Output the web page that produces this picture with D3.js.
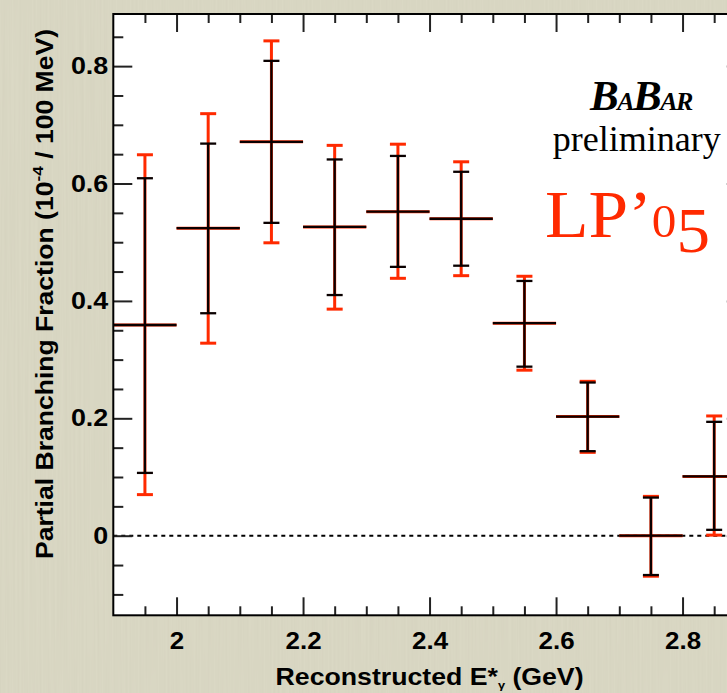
<!DOCTYPE html>
<html>
<head>
<meta charset="utf-8">
<script src="https://cdn.jsdelivr.net/npm/d3@7/dist/d3.min.js"></script>
<style>
  body { margin: 0; background: #d8d6c0; }
  svg { display: block; }
</style>
</head>
<body>
<div id="chart"></div>
<script>
// bin centres (GeV), 100 MeV wide bins
const binCentre = [1.95, 2.05, 2.15, 2.25, 2.35, 2.45, 2.55, 2.65, 2.75, 2.85];
const binWidth = 0.1;
const value = [0.359, 0.524, 0.671, 0.526, 0.552, 0.540, 0.362, 0.203, 0.000, 0.101];
// inner (black) error bar ends
const statLow = [0.107, 0.379, 0.533, 0.410, 0.458, 0.460, 0.288, 0.144, -0.067, 0.010];
const statHigh = [0.609, 0.668, 0.809, 0.641, 0.647, 0.620, 0.434, 0.261, 0.065, 0.194];
// outer (red) error bar ends
const totLow = [0.070, 0.328, 0.499, 0.386, 0.4385, 0.443, 0.282, 0.142, -0.069, 0.001];
const totHigh = [0.649, 0.719, 0.843, 0.665, 0.667, 0.637, 0.442, 0.263, 0.067, 0.204];

const xMajor = [2.0, 2.2, 2.4, 2.6, 2.8];
const xMinor = [1.95, 2.05, 2.1, 2.15, 2.25, 2.3, 2.35, 2.45, 2.5, 2.55, 2.65, 2.7, 2.75, 2.85];
const yMajor = [0, 0.2, 0.4, 0.6, 0.8];
const yMinor = [-0.1, -0.05, 0.05, 0.1, 0.15, 0.25, 0.3, 0.35, 0.45, 0.5, 0.55, 0.65, 0.7, 0.75, 0.85];

const W = 727, H = 693;
const frame = { left: 113.3, right: 745.8, top: 14, bottom: 615.3 };
const red = '#ff2a00';
const sans = '"Liberation Sans", Arial, Helvetica, sans-serif';
const serif = '"Liberation Serif", "Times New Roman", serif';

const data = binCentre.map((c, i) => ({
  c, v: value[i], sl: statLow[i], sh: statHigh[i], tl: totLow[i], th: totHigh[i]
}));

const svg = d3.select('#chart')
  .append('svg')
  .attr('width', W)
  .attr('height', H);

// paper-like background
const defs = svg.append('defs');
const f = defs.append('filter').attr('id', 'paper')
  .attr('x', 0).attr('y', 0).attr('width', 1).attr('height', 1);
f.append('feTurbulence')
  .attr('type', 'fractalNoise')
  .attr('baseFrequency', '0.5 0.006')
  .attr('numOctaves', 2)
  .attr('seed', 4);
f.append('feColorMatrix')
  .attr('values', '0 0 0 0 0.55  0 0 0 0 0.53  0 0 0 0 0.42  0 0 0 0.3 0');

svg.append('rect').attr('width', W).attr('height', H).attr('fill', '#dcdac6');
svg.append('rect').attr('width', W).attr('height', H).attr('filter', 'url(#paper)');

const x = d3.scaleLinear().domain([1.9, 2.9]).range([frame.left, frame.right]);
const y = d3.scaleLinear().domain([-0.1356, 0.8888]).range([frame.bottom, frame.top]);

svg.append('rect')
  .attr('x', frame.left).attr('y', frame.top)
  .attr('width', frame.right - frame.left)
  .attr('height', frame.bottom - frame.top)
  .attr('fill', 'white');

// zero line
svg.append('line')
  .attr('x1', frame.left).attr('x2', frame.right)
  .attr('y1', y(0)).attr('y2', y(0))
  .attr('stroke', 'black')
  .attr('stroke-width', 2)
  .attr('stroke-dasharray', '4,4');

// axes (ticks pointing inward)
const tickStyle = (g) => {
  g.select('.domain').remove();
  g.selectAll('.tick line').attr('stroke', '#222').attr('stroke-width', 2);
  g.selectAll('text')
    .attr('font-family', sans)
    .attr('font-weight', 'bold')
    .attr('fill', 'black');
};

const bottom = d3.axisBottom(x).tickValues(xMajor).tickSize(-18).tickPadding(17)
  .tickFormat(d3.format('.1f'));
svg.append('g').attr('transform', `translate(0,${frame.bottom})`)
  .call(bottom).call(tickStyle)
  .selectAll('text').attr('font-size', 24)
  .text(d => d === 2 ? '2' : d3.format('.1f')(d))
  .attr('data-stretch', 1.08);
svg.append('g').attr('transform', `translate(0,${frame.bottom})`)
  .call(d3.axisBottom(x).tickValues(xMinor).tickSize(-9).tickFormat(''))
  .call(tickStyle);

svg.append('g').attr('transform', `translate(0,${frame.top})`)
  .call(d3.axisTop(x).tickValues(xMajor).tickSize(-18).tickFormat(''))
  .call(tickStyle);
svg.append('g').attr('transform', `translate(0,${frame.top})`)
  .call(d3.axisTop(x).tickValues(xMinor).tickSize(-9).tickFormat(''))
  .call(tickStyle);

svg.append('g').attr('transform', `translate(${frame.left},0)`)
  .call(d3.axisLeft(y).tickValues(yMajor).tickSize(-19).tickPadding(5)
    .tickFormat(d => d === 0 ? '0' : d3.format('.1f')(d)))
  .call(tickStyle)
  .selectAll('text').attr('font-size', 24)
  .attr('data-stretch', 1.12);
svg.append('g').attr('transform', `translate(${frame.left},0)`)
  .call(d3.axisLeft(y).tickValues(yMinor).tickSize(-10).tickFormat(''))
  .call(tickStyle);

svg.append('g').attr('transform', `translate(${frame.right},0)`)
  .call(d3.axisRight(y).tickValues(yMajor).tickSize(-19).tickFormat(''))
  .call(tickStyle);
svg.append('g').attr('transform', `translate(${frame.right},0)`)
  .call(d3.axisRight(y).tickValues(yMinor).tickSize(-10).tickFormat(''))
  .call(tickStyle);

// widen tick labels a bit, the original glyphs are stretched
svg.selectAll('.tick text[data-stretch]').each(function () {
  const s = +this.getAttribute('data-stretch');
  const w = this.getComputedTextLength();
  d3.select(this).attr('textLength', w * s).attr('lengthAdjust', 'spacingAndGlyphs');
});

// error bars
const cap = 8;
const pts = svg.append('g');

// red total errors underneath
const redG = pts.append('g').attr('stroke', red).attr('stroke-width', 3);
redG.selectAll('line.v').data(data).join('line')
  .attr('x1', d => x(d.c)).attr('x2', d => x(d.c))
  .attr('y1', d => y(d.tl)).attr('y2', d => y(d.th));
redG.selectAll('line.lo').data(data).join('line')
  .attr('x1', d => x(d.c) - cap).attr('x2', d => x(d.c) + cap)
  .attr('y1', d => y(d.tl)).attr('y2', d => y(d.tl));
redG.selectAll('line.hi').data(data).join('line')
  .attr('x1', d => x(d.c) - cap).attr('x2', d => x(d.c) + cap)
  .attr('y1', d => y(d.th)).attr('y2', d => y(d.th));
redG.selectAll('line.h').data(data).join('line')
  .attr('x1', d => x(d.c - binWidth / 2)).attr('x2', d => x(d.c + binWidth / 2))
  .attr('y1', d => y(d.v)).attr('y2', d => y(d.v));

// black inner errors on top
const blackG = pts.append('g').attr('stroke', '#0a0000').attr('stroke-width', 2.3);
blackG.selectAll('line.v').data(data).join('line')
  .attr('x1', d => x(d.c)).attr('x2', d => x(d.c))
  .attr('y1', d => y(d.sl)).attr('y2', d => y(d.sh));
blackG.selectAll('line.lo').data(data).join('line')
  .attr('x1', d => x(d.c) - cap).attr('x2', d => x(d.c) + cap)
  .attr('y1', d => y(d.sl)).attr('y2', d => y(d.sl));
blackG.selectAll('line.hi').data(data).join('line')
  .attr('x1', d => x(d.c) - cap).attr('x2', d => x(d.c) + cap)
  .attr('y1', d => y(d.sh)).attr('y2', d => y(d.sh));
blackG.selectAll('line.h').data(data).join('line')
  .attr('x1', d => x(d.c - binWidth / 2)).attr('x2', d => x(d.c + binWidth / 2))
  .attr('y1', d => y(d.v)).attr('y2', d => y(d.v));

// frame
svg.append('rect')
  .attr('x', frame.left).attr('y', frame.top)
  .attr('width', frame.right - frame.left)
  .attr('height', frame.bottom - frame.top)
  .attr('fill', 'none')
  .attr('stroke', 'black')
  .attr('stroke-width', 2);

// axis titles
svg.append('text')
  .attr('x', (frame.left + frame.right) / 2)
  .attr('y', 685)
  .attr('text-anchor', 'middle')
  .attr('font-family', sans).attr('font-weight', 'bold').attr('font-size', 23)
  .attr('textLength', 308).attr('lengthAdjust', 'spacingAndGlyphs')
  .call(t => {
    t.append('tspan').text('Reconstructed E*');
    t.append('tspan').attr('font-size', 11).attr('dy', 4).text('γ');
    t.append('tspan').attr('dy', -4).text(' (GeV)');
  });

svg.append('text')
  .attr('transform', 'translate(53,294) rotate(-90)')
  .attr('text-anchor', 'middle')
  .attr('font-family', sans).attr('font-weight', 'bold').attr('font-size', 23)
  .attr('textLength', 530).attr('lengthAdjust', 'spacingAndGlyphs')
  .call(t => {
    t.append('tspan').text('Partial Branching Fraction (10');
    t.append('tspan').attr('font-size', 15).attr('dy', -10).text('-4');
    t.append('tspan').attr('dy', 10).text(' / 100 MeV)');
  });

// experiment labels
svg.append('text')
  .attr('x', 590).attr('y', 109.5)
  .attr('font-family', serif).attr('font-weight', 'bold').attr('font-style', 'italic')
  .attr('letter-spacing', -1.5)
  .call(t => {
    t.append('tspan').attr('font-size', 43).text('B');
    t.append('tspan').attr('font-size', 26).text('A');
    t.append('tspan').attr('font-size', 43).text('B');
    t.append('tspan').attr('font-size', 26).text('AR');
  });

svg.append('text')
  .attr('x', 552.7).attr('y', 150.5)
  .attr('font-family', serif).attr('font-size', 35)
  .attr('textLength', 168).attr('lengthAdjust', 'spacingAndGlyphs')
  .text('preliminary');

svg.append('text')
  .attr('x', 545).attr('y', 237)
  .attr('font-family', serif).attr('fill', red)
  .attr('textLength', 165).attr('lengthAdjust', 'spacingAndGlyphs')
  .call(t => {
    t.append('tspan').attr('font-size', 68).text('LP’');
    t.append('tspan').attr('font-size', 47).text('0');
    t.append('tspan').attr('font-size', 64).attr('dy', 15).text('5');
  });
</script>
</body>
</html>
